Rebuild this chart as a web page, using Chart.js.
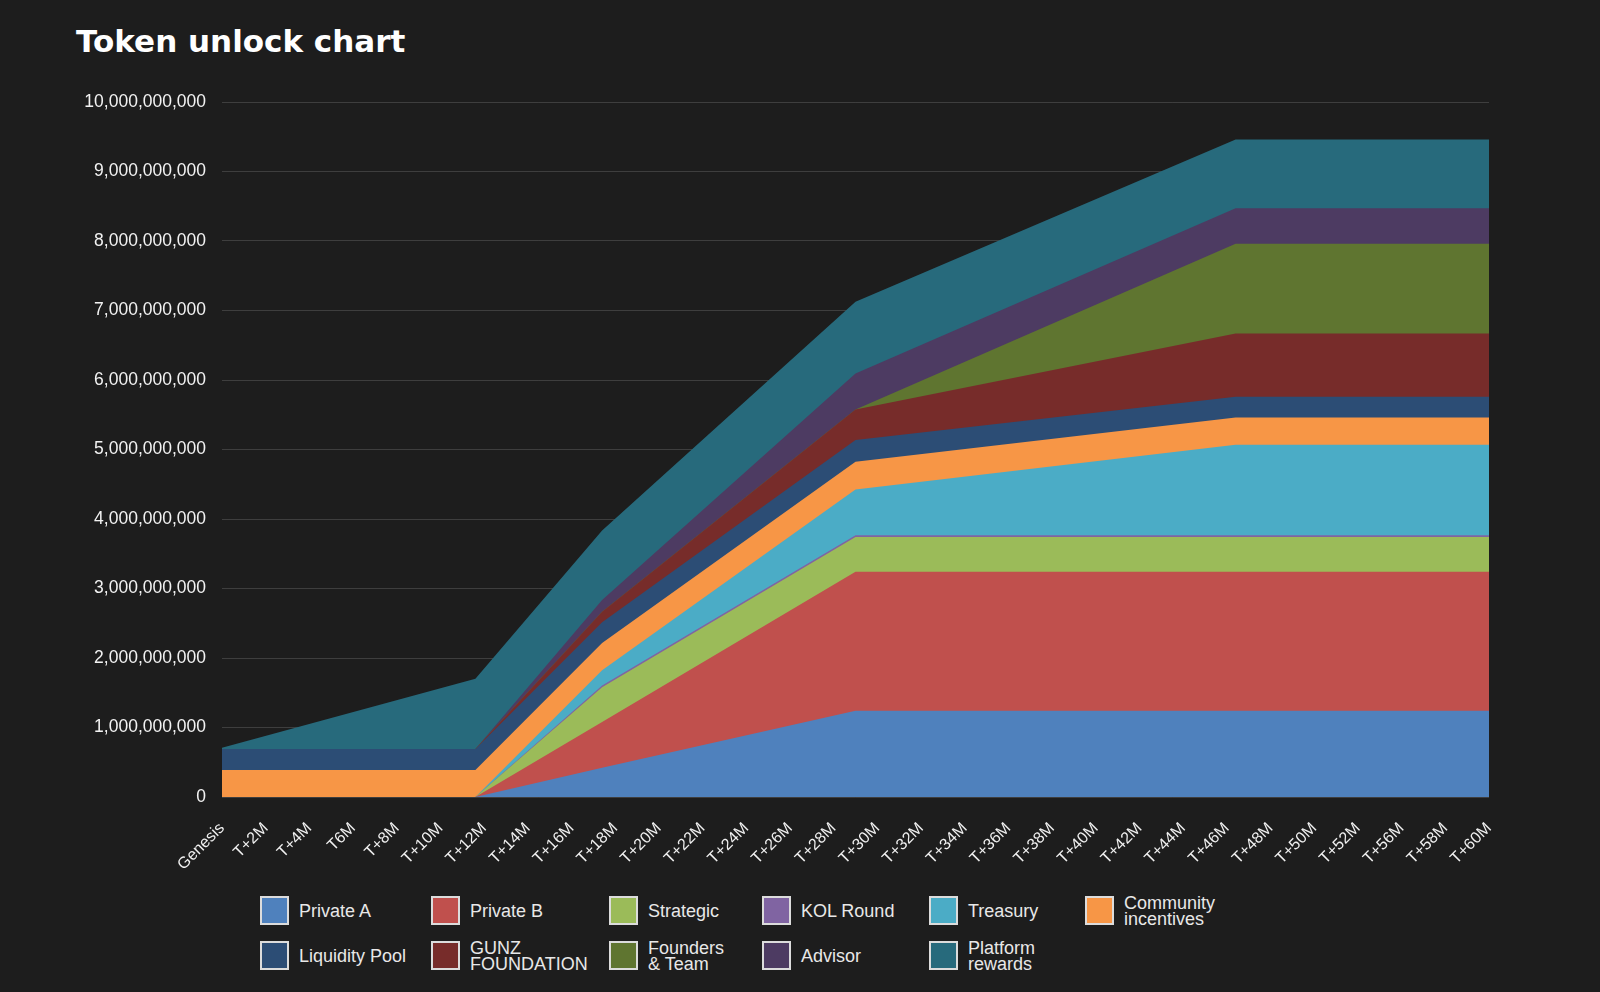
<!DOCTYPE html>
<html lang="en">
<head>
<meta charset="utf-8">
<title>Token unlock chart</title>
<script src="https://cdn.jsdelivr.net/npm/chart.js@4.4.1/dist/chart.umd.min.js"></script>
<style>
  html, body { margin: 0; padding: 0; }
  body {
    width: 1600px; height: 992px; overflow: hidden; position: relative;
    background: #1d1d1d;
    font-family: "Liberation Sans", Arial, sans-serif;
  }
  #title {
    position: absolute; left: 76px; top: 26px; margin: 0;
    font: bold 31px/31px "DejaVu Sans", sans-serif; color: #fff;
  }
  #unlock-chart { position: absolute; left: 0; top: 0; }
  #legend {
    position: absolute; left: 260px; top: 896px;
    display: grid; grid-template-columns: 171px 178px 153px 167px 156px 170px;
    grid-auto-rows: 29px; row-gap: 16px;
  }
  .legend-item { display: flex; align-items: center; gap: 10px; }
  .legend-box { width: 29px; height: 29px; box-sizing: border-box; border: 2px solid #dcdcdc; flex: none; }
  .legend-name { font-size: 18px; line-height: 16px; color: #e8e8e8; white-space: pre-line; }
</style>
</head>
<body>
<h1 id="title">Token unlock chart</h1>
<canvas id="unlock-chart" width="1600" height="870"></canvas>
<div id="legend"></div>
<script>
const tickLabels = [
  "Genesis", "T+2M", "T+4M", "T6M", "T+8M", "T+10M", "T+12M", "T+14M", "T+16M", "T+18M",
  "T+20M", "T+22M", "T+24M", "T+26M", "T+28M", "T+30M", "T+32M", "T+34M", "T+36M", "T+38M",
  "T+40M", "T+42M", "T+44M", "T+46M", "T+48M", "T+50M", "T+52M", "T+56M", "T+58M", "T+60M",
];
const yTicks = [0, 1e9, 2e9, 3e9, 4e9, 5e9, 6e9, 7e9, 8e9, 9e9, 10e9];

// months after genesis where the unlock curves bend
const months = [0, 12, 18, 30, 48, 60];

const privateA        = [0, 0, 420_000_000, 1_240_000_000, 1_240_000_000, 1_240_000_000];
const privateB        = [0, 0, 660_000_000, 2_000_000_000, 2_000_000_000, 2_000_000_000];
const strategic       = [0, 0, 500_000_000, 500_000_000, 500_000_000, 500_000_000];
const kolRound        = [0, 0, 25_000_000, 25_000_000, 25_000_000, 25_000_000];
const treasury        = [0, 0, 220_000_000, 660_000_000, 1_305_000_000, 1_305_000_000];
const community       = [390_000_000, 390_000_000, 390_000_000, 400_000_000, 390_000_000, 390_000_000];
const liquidityPool   = [300_000_000, 300_000_000, 300_000_000, 310_000_000, 300_000_000, 300_000_000];
const gunzFoundation  = [0, 0, 150_000_000, 440_000_000, 910_000_000, 910_000_000];
const foundersTeam    = [0, 0, 0, 0, 1_290_000_000, 1_290_000_000];
const advisor         = [0, 0, 170_000_000, 520_000_000, 510_000_000, 510_000_000];
const platformRewards = [20_000_000, 1_010_000_000, 1_000_000_000, 1_030_000_000, 990_000_000, 990_000_000];

const seriesNames = [
  "Private A", "Private B", "Strategic", "KOL Round", "Treasury", "Community\nincentives",
  "Liquidity Pool", "GUNZ\nFOUNDATION", "Founders\n& Team", "Advisor", "Platform\nrewards",
];
const seriesColors = [
  "#4f81bd", "#c0504d", "#9bbb59", "#8064a2", "#4bacc6", "#f79646",
  "#2c4d75", "#772c2a", "#5f7530", "#4d3b62", "#276a7c",
];
const seriesValues = [
  privateA, privateB, strategic, kolRound, treasury, community,
  liquidityPool, gunzFoundation, foundersTeam, advisor, platformRewards,
];

function buildDatasets(){
  return seriesValues.map((vals, i) => ({
    label: seriesNames[i].replace("\n", " "),
    data: months.map((m, j) => ({ x: m, y: vals[j] })),
    backgroundColor: seriesColors[i],
    borderColor: "transparent",
    borderWidth: 0,
    pointRadius: 0,
    pointHoverRadius: 0,
    tension: 0,
    fill: "origin",
  }));
}

function renderLegend(){
  const root = document.getElementById("legend");
  root.innerHTML = seriesNames.map((name, i) => `
    <div class="legend-item">
      <span class="legend-box" style="background:${seriesColors[i]}"></span>
      <span class="legend-name">${name.replace("&", "&amp;")}</span>
    </div>
  `).join("");
}

function drawChart(){
  const lastMonth = months[months.length - 1];
  new Chart(document.getElementById("unlock-chart"), {
    type: "line",
    data: { datasets: buildDatasets() },
    options: {
      responsive: false,
      animation: false,
      events: [],
      layout: { padding: { top: 102, right: 111, bottom: 0, left: 0 } },
      plugins: { legend: { display: false }, tooltip: { enabled: false } },
      scales: {
        x: {
          type: "linear",
          min: 0,
          max: lastMonth,
          grid: { display: false },
          border: { display: false },
          afterBuildTicks: (scale) => {
            scale.ticks = tickLabels.map((_, i) => ({ value: i * lastMonth / (tickLabels.length - 1) }));
          },
          afterFit: (scale) => { scale.height = 73; },
          ticks: {
            autoSkip: false,
            minRotation: 45,
            maxRotation: 45,
            padding: 14,
            color: "#f0f0f0",
            font: { family: "Liberation Sans", size: 16 },
            callback: (value, index) => tickLabels[index],
          },
        },
        y: {
          stacked: true,
          min: 0,
          max: yTicks[yTicks.length - 1],
          grid: { color: "rgba(255,255,255,0.15)", lineWidth: 1, drawTicks: false },
          border: { display: false },
          afterBuildTicks: (scale) => { scale.ticks = yTicks.map((v) => ({ value: v })); },
          afterFit: (scale) => { scale.width = 222; },
          ticks: {
            padding: 16,
            color: "#f2f2f2",
            font: { family: "Liberation Sans", size: 17.5 },
            callback: (value) => Number(value).toLocaleString("en-US"),
          },
        },
      },
    },
  });
}

renderLegend();
drawChart();
</script>
</body>
</html>
